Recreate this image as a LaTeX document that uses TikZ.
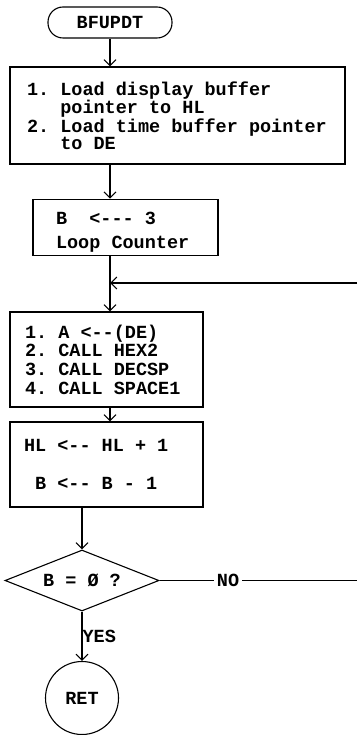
\documentclass[tikz,border=0pt]{standalone}
\usepackage{fontspec}
\setmonofont{Liberation Mono}
\begingroup
\catcode`\ =\active
\gdef\fixspaces{\catcode`\ =\active\def {\hphantom{0}}}
\endgroup
\newcommand\typefont[2]{\ttfamily\bfseries\fontsize{#1}{#2}\selectfont\fixspaces}
\usetikzlibrary{shapes.geometric,arrows.meta}
\tikzset{
  box/.style={draw, line width=1.1pt, rectangle, align=left, font=\typefont{18.5}{17}},
  arr/.style={line width=1.1pt, -{Straight Barb[length=6pt,width=12pt]}},
  ln/.style={line width=1.1pt},
  tag/.style={font=\typefont{18.5}{18}, inner sep=0pt},
}
\begin{document}
\begin{tikzpicture}[x=1pt,y=-1pt]
  \useasboundingbox (0,0) rectangle (357,735);
  \node[box, rounded corners=15pt, minimum width=124pt, minimum height=31pt, align=center] (start) at (110,22.5) {BFUPDT};
  \node[box, text width=301pt, inner xsep=17pt, minimum height=97pt] (load) at (177.5,115.5)
    {1. Load display buffer\\   pointer to HL\\2. Load time buffer pointer\\   to DE};
  \node[box, text width=139pt, inner xsep=23pt, minimum height=55pt, font=\typefont{18.5}{24}] (count) at (125.5,227.5)
    {\rule{0pt}{22pt}B  <--- 3\\Loop Counter};
  \node[box, text width=163pt, inner xsep=15pt, minimum height=95pt, font=\typefont{18.5}{18.7}] (work) at (106.5,359.5)
    {1. A <--(DE)\\2. CALL HEX2\\3. CALL DECSP\\4. CALL SPACE1};
  \node[box, text width=165pt, inner xsep=14pt, minimum height=85pt, font=\typefont{18.5}{38}] (step) at (106.5,464.5)
    {HL <-- HL + 1\\ B <-- B - 1};
  \node[box, diamond, aspect=2.5, minimum width=154pt, minimum height=61pt, inner sep=0pt, align=center] (test) at (82,580.5) {B = Ø ?};
  \node[box, circle, minimum size=73pt, align=center] (ret) at (82,698) {RET};
  \node[tag, inner xsep=3pt] (no) at (228,580.5) {NO};
  \coordinate (loopin) at (357,283);
  \coordinate (noout) at (357,580.5);

  \draw[arr] (start) -- (start |- load.north);
  \draw[arr] (load.south -| start) -- (start |- count.north);
  \draw[arr] (count.south -| start) -- (start |- work.north);
  \draw[arr] (loopin) -- (start |- loopin);
  \draw[arr] (work.south -| start) -- (start |- step.north);
  \draw[arr] (step.south -| test) -- (test.north);
  \draw[arr] (test.south) -- node[tag, right] (yes) {YES} (ret.north);
  \draw[ln] (test.east) -- (no.west);
  \draw[ln] (no.east) -- (noout);
\end{tikzpicture}
\end{document}
